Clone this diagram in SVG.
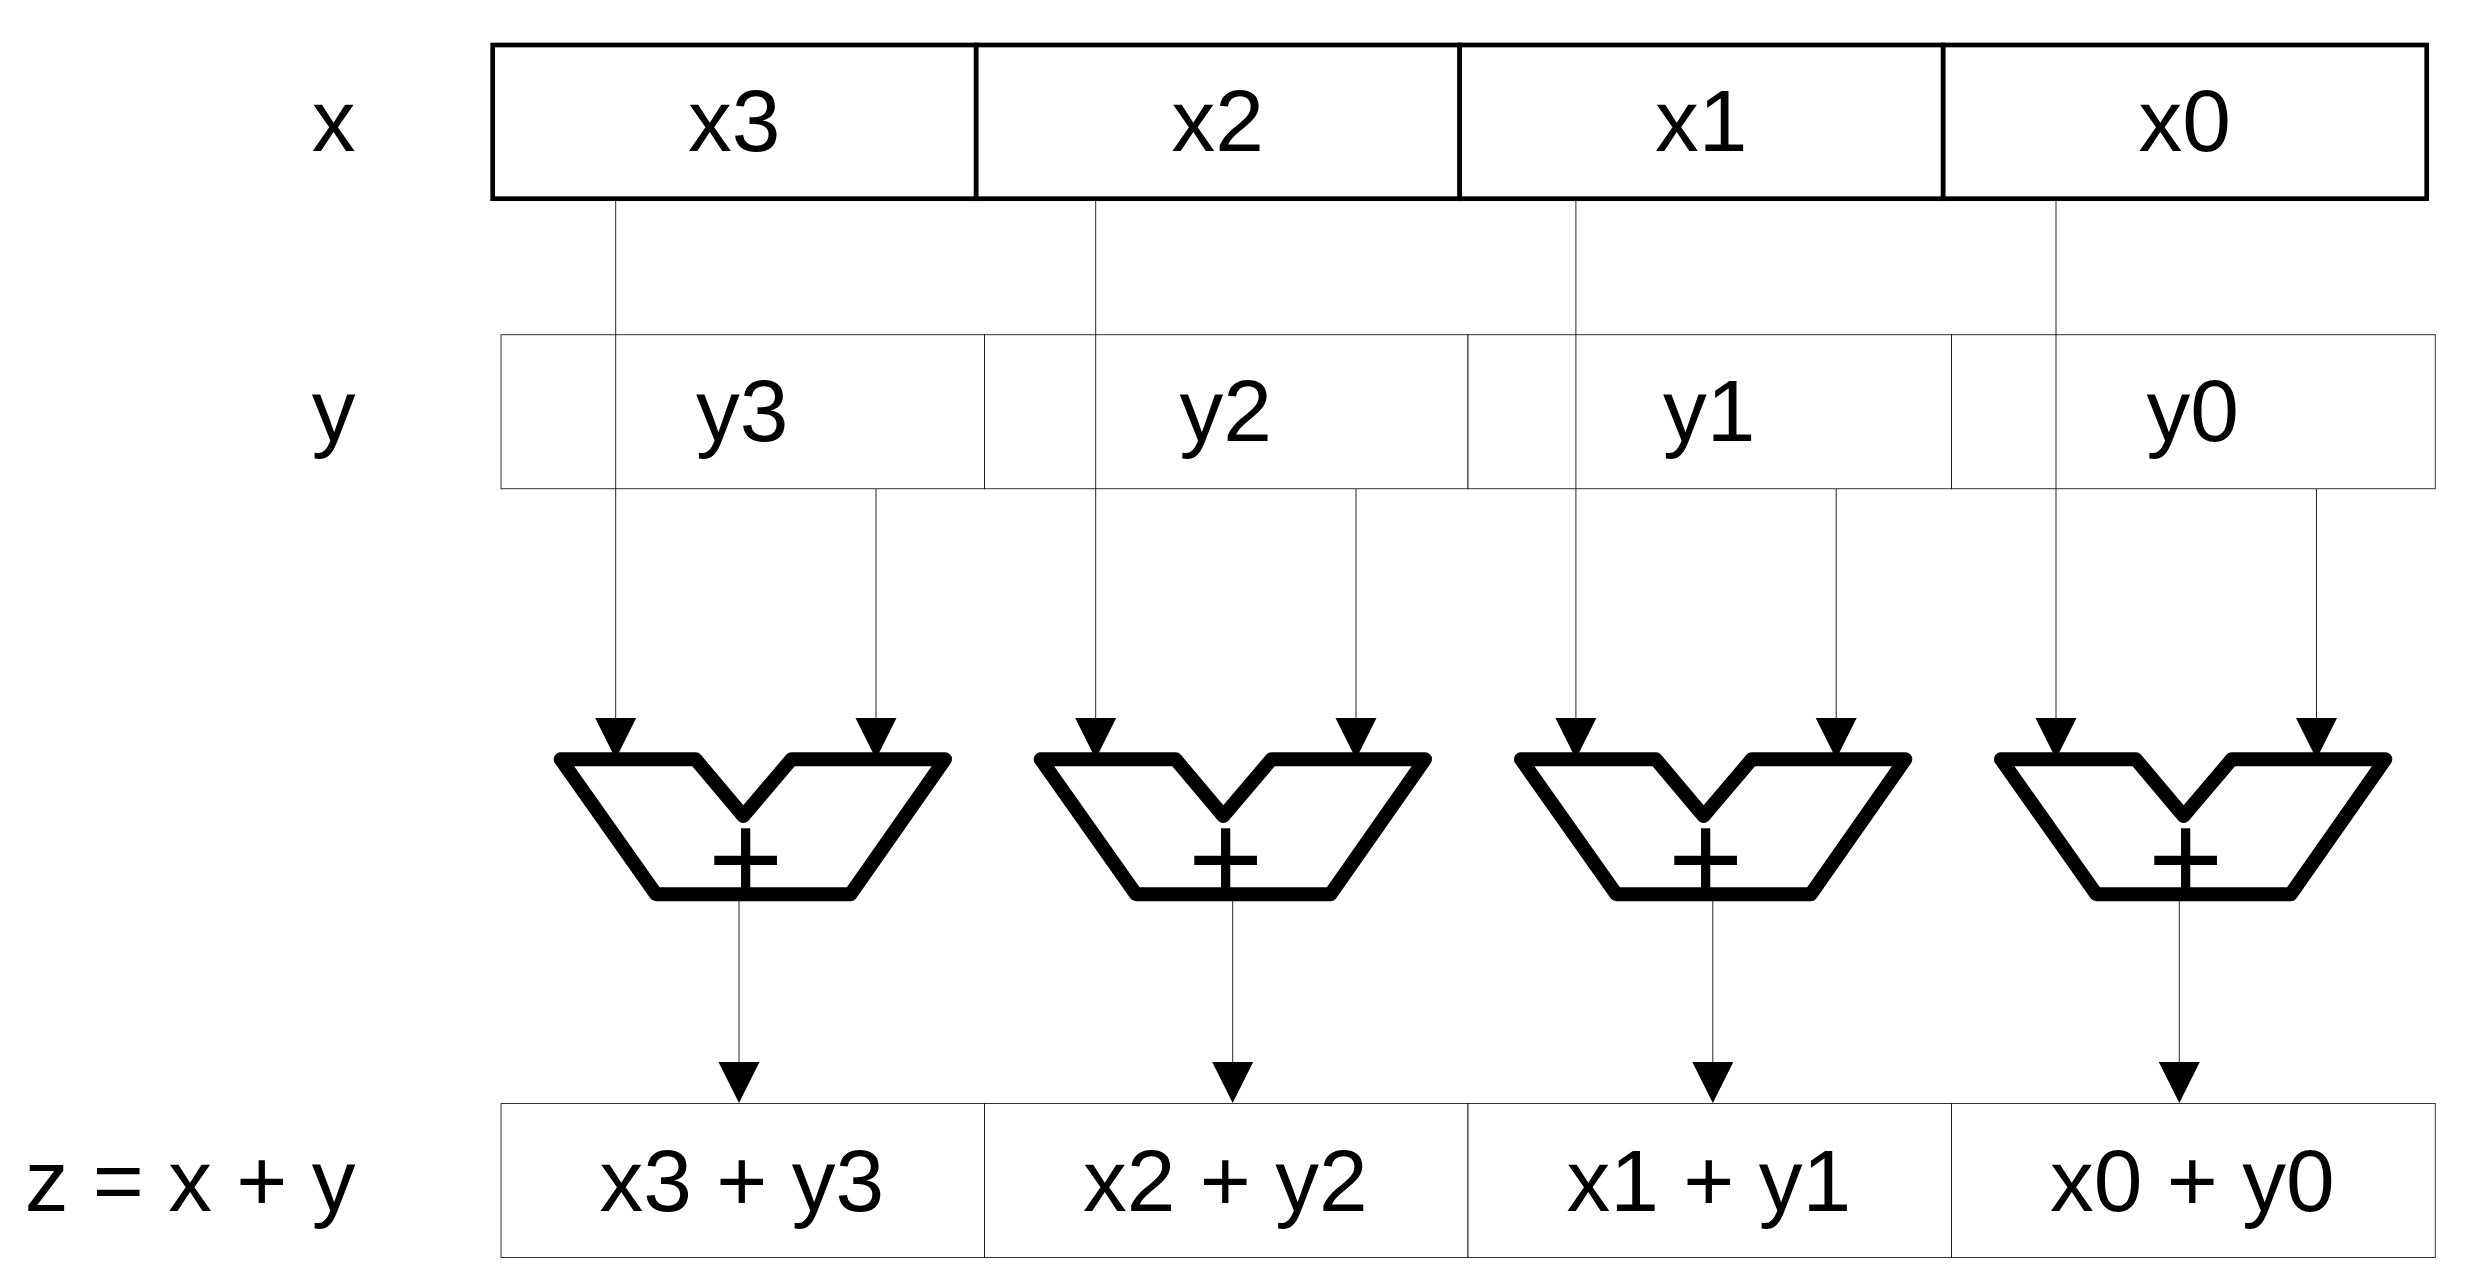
<svg xmlns="http://www.w3.org/2000/svg" width="2467" height="1282" viewBox="0 0 2467 1282">
<style>
text{font-family:"Liberation Sans",Arial,sans-serif;font-size:87.5px;fill:#000;text-anchor:middle}
.lab{text-anchor:end}
.plus{font-size:129px}
.thick{fill:#fff;stroke:#000;stroke-width:4.7}
.thin{fill:#fff;stroke:#000;stroke-width:1;stroke-opacity:.8}
.wire{fill:none;stroke:#000;stroke-width:1;stroke-opacity:.85;marker-end:url(#arrow)}
.add{fill:none;stroke:#000;stroke-width:14;stroke-linejoin:round}
</style>
<defs>
<marker id="arrow" markerUnits="userSpaceOnUse" markerWidth="41" markerHeight="41" refX="0" refY="20.5" orient="auto" overflow="visible"><path d="M0 0L41 20.5L0 41Z" fill="#000"/></marker>
<path id="adder" d="M560.7 759.3H695.5L743.3 816L791.5 759.3H945L850.5 894.2H656Z"/>
</defs>
<g id="label-x"><text class="lab" x="355.5" y="151">x</text></g>
<g id="label-y"><text class="lab" x="355.5" y="441">y</text></g>
<g id="label-z"><text class="lab" x="355.5" y="1210.5">z = x + y</text></g>
<g id="x3"><rect class="thick" x="492.7" y="45" width="483.5" height="153.7"/><text x="734.2" y="151">x3</text></g>
<g id="x2"><rect class="thick" x="976.2" y="45" width="483.5" height="153.7"/><text x="1217.7" y="151">x2</text></g>
<g id="x1"><rect class="thick" x="1459.7" y="45" width="483.5" height="153.7"/><text x="1701.2" y="151">x1</text></g>
<g id="x0"><rect class="thick" x="1943.2" y="45" width="483.5" height="153.7"/><text x="2184.7" y="151">x0</text></g>
<g id="y3"><rect class="thin" x="501" y="334.7" width="483.5" height="154"/><text x="742.3" y="441">y3</text></g>
<g id="y2"><rect class="thin" x="984.5" y="334.7" width="483.5" height="154"/><text x="1225.8" y="441">y2</text></g>
<g id="y1"><rect class="thin" x="1468" y="334.7" width="483.5" height="154"/><text x="1709.3" y="441">y1</text></g>
<g id="y0"><rect class="thin" x="1951.5" y="334.7" width="483.8" height="154"/><text x="2192.8" y="441">y0</text></g>
<g id="z3"><rect class="thin" x="501" y="1103.5" width="483.5" height="154"/><text x="741.8" y="1210.5">x3 + y3</text></g>
<g id="z2"><rect class="thin" x="984.5" y="1103.5" width="483.5" height="154"/><text x="1225.3" y="1210.5">x2 + y2</text></g>
<g id="z1"><rect class="thin" x="1468" y="1103.5" width="483.5" height="154"/><text x="1708.8" y="1210.5">x1 + y1</text></g>
<g id="z0"><rect class="thin" x="1951.5" y="1103.5" width="483.8" height="154"/><text x="2192.3" y="1210.5">x0 + y0</text></g>
<g id="adder3"><use href="#adder" class="add"/><text class="plus" x="745.7" y="903">+</text></g>
<g id="adder2"><use href="#adder" class="add" x="480"/><text class="plus" x="1225.7" y="903">+</text></g>
<g id="adder1"><use href="#adder" class="add" x="960.3"/><text class="plus" x="1705.7" y="903">+</text></g>
<g id="adder0"><use href="#adder" class="add" x="1440.3"/><text class="plus" x="2185.7" y="903">+</text></g>
<g id="connectors">
<path class="wire" d="M615.7 199V718"/>
<path class="wire" d="M1095.7 199V718"/>
<path class="wire" d="M1575.9 199V718"/>
<path class="wire" d="M2056 199V718"/>
<path class="wire" d="M876 489V718"/>
<path class="wire" d="M1356 489V718"/>
<path class="wire" d="M1836.2 489V718"/>
<path class="wire" d="M2316.5 489V718"/>
<path class="wire" d="M739 901V1062"/>
<path class="wire" d="M1232.7 901V1062"/>
<path class="wire" d="M1712.8 901V1062"/>
<path class="wire" d="M2179.3 901V1062"/>
</g>
</svg>
